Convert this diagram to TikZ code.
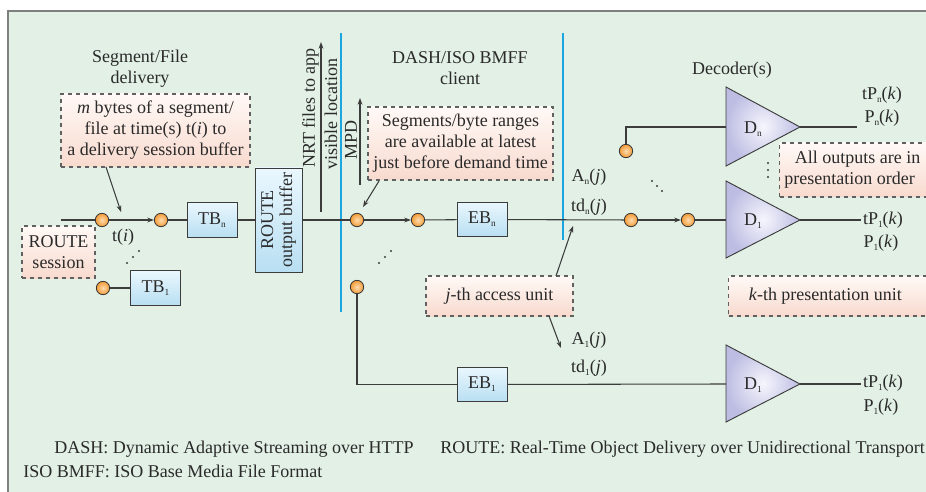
\documentclass[tikz,border=0pt]{standalone}
\usepackage{fontspec}
\setmainfont{Liberation Serif}
\usetikzlibrary{arrows.meta}
\definecolor{panelbg}{HTML}{E2F0E5}
\definecolor{framec}{HTML}{7F7F7F}
\definecolor{wirec}{HTML}{3C3C3C}
\definecolor{txtc}{HTML}{2A2A2A}
\definecolor{sepc}{HTML}{1BA6E2}
\definecolor{dotout}{HTML}{F39A35}
\definecolor{dotin}{HTML}{FDDCB0}
\definecolor{boxtop}{HTML}{EAF7FD}
\definecolor{boxbot}{HTML}{B8DFF2}
\definecolor{triout}{HTML}{BDBDE3}
\definecolor{triin}{HTML}{F6F6FD}
\definecolor{notetop}{HTML}{FFF9F6}
\definecolor{notebot}{HTML}{F8DACE}
\definecolor{notedraw}{HTML}{606060}
% small lowered index, as in TB_n
\newcommand{\lowidx}[1]{\raisebox{-0.35ex}{\fontsize{7}{7}\selectfont #1}}
\tikzset{
  wire/.style={draw=wirec, line width=0.8pt},
  arr/.style={wire, -{Stealth[length=5pt,width=3.6pt]}},
  sepline/.style={draw=sepc, line width=1.3pt},
  port/.style={circle, draw=wirec!90!black, line width=0.6pt, inner color=dotin, outer color=dotout, minimum size=10pt, inner sep=0pt},
  buf/.style={draw=wirec, line width=0.7pt, top color=boxtop, bottom color=boxbot, minimum width=37.5pt, minimum height=26pt, inner sep=0pt, text=txtc},
  note/.style={draw=notedraw, dashed, line width=0.8pt, top color=notetop, bottom color=notebot, align=center, inner sep=2pt, text=txtc},
  lbl/.style={inner sep=0pt, align=center, text=txtc},
  tri/.style={draw=wirec, line width=0.7pt, inner color=triin, outer color=triout},
  ell/.style={fill=wirec, circle, inner sep=0pt, minimum size=1.8pt}
}
\begin{document}
\begin{tikzpicture}[x=0.75pt,y=-0.75pt, font=\fontsize{13.5}{15.8}\selectfont]
\useasboundingbox (0,0) rectangle (926,492);
% panel
\fill[panelbg] (8,11) rectangle (940,500);
\draw[framec, line width=1.5pt] (8,500) -- (8,11) -- (940,11);

% stage separators
\draw[sepline] (341,33) -- (341,312);
\draw[sepline] (563,33) -- (563,240);

% titles
\node[lbl] (segtitle) at (140,69) {Segment/File\\delivery};
\node[lbl] (dashtitle) at (460,68) {DASH/ISO BMFF\\client};
\node[lbl] (dectitle) at (732,70) {Decoder(s)};

% notes
\node[note, minimum width=141.75pt, minimum height=54.75pt] (mb) at (155.5,130.5)
  {\textit{m} bytes of a segment/\\file at time(s) t(\textit{i}) to\\a delivery session buffer};
\node[note, minimum width=54.75pt, minimum height=39pt] (rs) at (58.5,252) {ROUTE\\session};
\node[note, minimum width=138.75pt, minimum height=54.75pt] (sb) at (460.5,143.5)
  {Segments/byte ranges\\are available at latest\\just before demand time};
\node[note, minimum width=110.25pt, minimum height=30pt] (au) at (499.5,296) {\textit{j}-th access unit};
\node[note, minimum width=117pt, minimum height=40.5pt, anchor=west] (ao) at (779,170) {All outputs are in\\presentation order\hspace*{12pt}};
\node[note, minimum width=155.25pt, minimum height=30pt, anchor=west] (pu) at (728,296) {\textit{k}-th presentation unit\hspace*{10pt}};

% buffers
\node[buf] (tbn) at (212,220) {TB\lowidx{n}};
\node[buf] (tb1) at (155.5,288) {TB\lowidx{1}};
\node[buf, rotate=90, minimum width=78pt, minimum height=35.25pt, align=center,
      font=\fontsize{13.5}{14.2}\selectfont] (rob) at (278.5,220) {ROUTE\\output buffer};
\node[buf] (ebn) at (482,219.5) {EB\lowidx{n}};
\node[buf] (eb1) at (482,384.5) {EB\lowidx{1}};

% ports
\node[port] (c1) at (102,220) {};
\node[port] (c2) at (161,220) {};
\node[port] (c3) at (103,288) {};
\node[port] (c4) at (357,220) {};
\node[port] (c5) at (418,220) {};
\node[port] (c6) at (357,287) {};
\node[port] (c7) at (631,220) {};
\node[port] (c8) at (688,220) {};
\node[port] (c9) at (626,151) {};

% decoders
\draw[tri] (726,87) -- (800,127) -- (726,166) -- cycle;
\draw[tri] (726,181) -- (800,220) -- (726,258) -- cycle;
\draw[tri] (726,345) -- (800,384) -- (726,422) -- cycle;
\node[lbl] (dn) at (753,129) {D\lowidx{n}};
\node[lbl] (d1) at (753,221) {D\lowidx{1}};
\node[lbl] (d1b) at (753,385) {D\lowidx{1}};
\coordinate (dnIn) at (726,127);  \coordinate (dnOut) at (800,127);
\coordinate (d1In) at (726,220);  \coordinate (d1Out) at (800,220);
\coordinate (d1bIn) at (726,384); \coordinate (d1bOut) at (800,384);
\coordinate (dnEnd) at (857,127);
\coordinate (d1End) at (861,220);
\coordinate (d1bEnd) at (861,384);

% main chain
\coordinate (in0) at (61,220);
\draw[wire] (in0) -- (c1);
\draw[arr] (c1) -- (c2);
\draw[wire] (c2) -- (tbn);
\draw[wire] (tbn) -- (rob);
\draw[wire] (rob) -- (c4);
\draw[arr] (c4) -- (c5);
\draw[wire] (c5) -- (ebn);
\draw[wire] (ebn) -- (c7);
\draw[arr] (c7) -- (c8);
\draw[wire] (c8) -- (d1In);
\draw[wire] (d1Out) -- (d1End);
% lower chains
\draw[wire] (c3) -- (tb1);
\draw[wire] (c6) |- (eb1);
\draw[wire] (eb1) -- (d1bIn);
\draw[wire] (d1bOut) -- (d1bEnd);
\draw[wire] (c9) |- (dnIn);
\draw[wire] (dnOut) -- (dnEnd);

% upward outputs of the ROUTE buffer and the client
\coordinate (nrt0) at (321,212); \coordinate (nrt1) at (321,42);
\draw[arr] (nrt0) -- (nrt1);
\node[lbl, rotate=90] (nrtA) at (310.5,108) {NRT files to app};
\node[lbl, rotate=90] (nrtB) at (331,114) {visible location};
\coordinate (mpd0) at (360,185); \coordinate (mpd1) at (360,98);
\draw[arr] (mpd0) -- (mpd1);
\node[lbl, rotate=90] (mpd) at (351,140) {MPD};

% note pointers
\coordinate (mbA) at (106,167); \coordinate (mbB) at (121,212);
\draw[arr] (mbA) -- (mbB);
\coordinate (sbA) at (379,181); \coordinate (sbB) at (363,207);
\draw[arr] (sbA) -- (sbB);
\coordinate (auA) at (556,276); \coordinate (auB) at (573,226);
\draw[arr] (auA) -- (auB);
\coordinate (auC) at (549,316); \coordinate (auD) at (561,348);
\draw[arr] (auC) -- (auD);

% signal labels
\node[lbl] (ti) at (123,237) {t(\textit{i})};
\node[lbl] (an) at (589,177) {A\lowidx{n}(\textit{j})};
\node[lbl] (tdn) at (589,207) {td\lowidx{n}(\textit{j})};
\node[lbl] (a1) at (589,340) {A\lowidx{1}(\textit{j})};
\node[lbl] (td1) at (589,368) {td\lowidx{1}(\textit{j})};
\node[lbl] (tpn) at (882,95) {tP\lowidx{n}(\textit{k})};
\node[lbl] (pn) at (882,118) {P\lowidx{n}(\textit{k})};
\node[lbl] (tp1) at (883,220) {tP\lowidx{1}(\textit{k})};
\node[lbl] (p1) at (881,243) {P\lowidx{1}(\textit{k})};
\node[lbl] (tp1b) at (883,383) {tP\lowidx{1}(\textit{k})};
\node[lbl] (p1b) at (881,407) {P\lowidx{1}(\textit{k})};

% ellipses
\foreach \p in {(127,263),(133,257),(139,251),(379,263),(385,257),(391,251),(652,181),(657,186),(662,191),(768,163),(768,170),(768,177)}
  \node[ell] at \p {};

% footnotes
\node[lbl, anchor=west] (fn1) at (54,449) {DASH: Dynamic Adaptive Streaming over HTTP};
\node[lbl, anchor=west] (fn2) at (23,471) {ISO BMFF: ISO Base Media File Format};
\node[lbl, anchor=west] (fn3) at (440,449) {ROUTE: Real-Time Object Delivery over Unidirectional Transport};
\end{tikzpicture}
\end{document}
